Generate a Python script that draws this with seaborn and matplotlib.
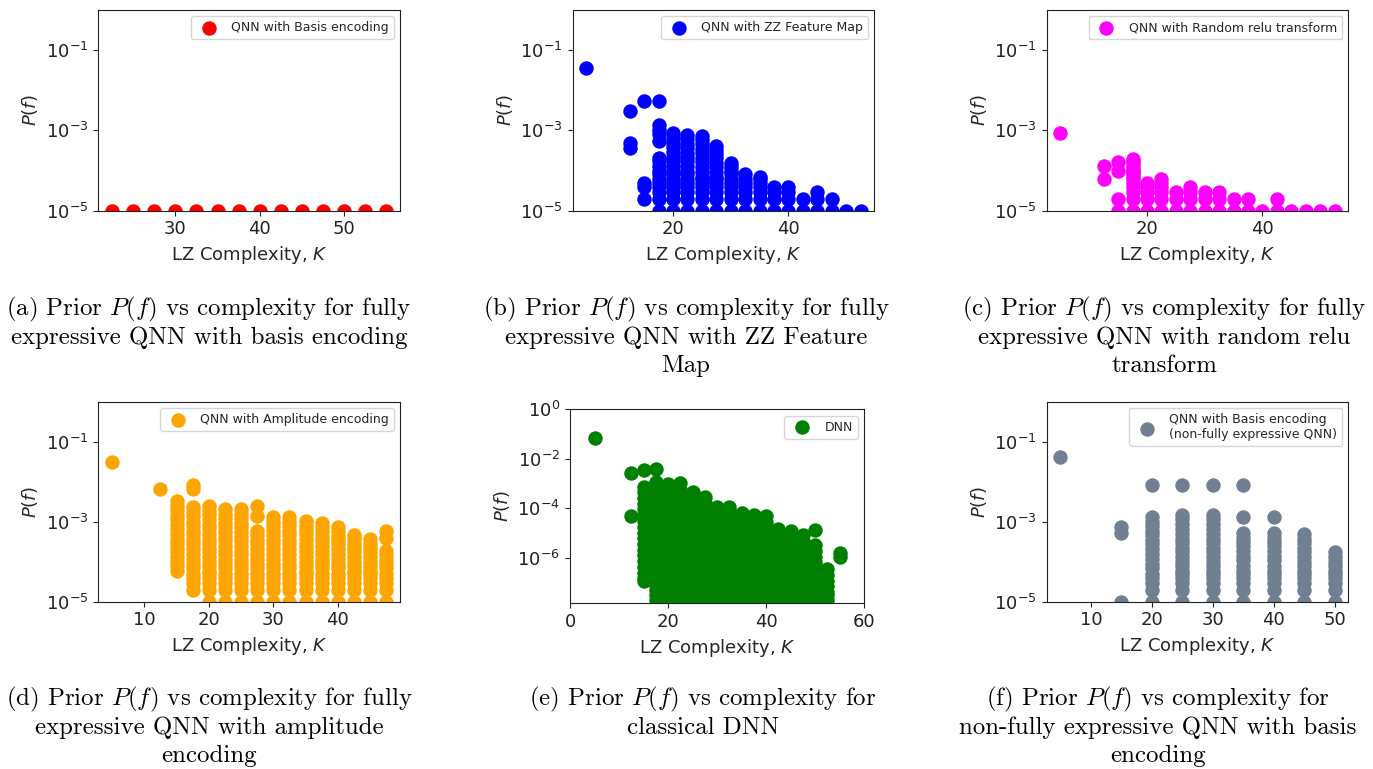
import numpy as np
import pandas as pd
import matplotlib
matplotlib.use("Agg")
import matplotlib.pyplot as plt
import seaborn as sns
from matplotlib.ticker import NullLocator

# ---------------------------------------------------------------------------
# Sampled functions: LZ complexity K of each column and the number of times
# each function in that column was hit.  P(f) = count / number of samples.
# ---------------------------------------------------------------------------
n_samples_qnn = 1e5
n_samples_dnn = 1e8

# (a) fully expressive QNN, basis encoding
basis_K = [22.5, 25, 27.5, 30, 32.5, 35, 37.5, 40, 42.5, 45, 47.5, 50, 52.5, 55]
basis_counts = [[1], [1], [1], [1], [1], [1], [1], [1], [1], [1], [1], [1], [1], [1]]

# (b) fully expressive QNN, ZZ feature map
zz_K = [5, 12.5, 15, 17.5, 20, 22.5, 25, 27.5, 30, 32.5, 35, 37.5, 40, 42.5, 45, 47.5, 50, 52.5]
zz_counts = [
    [3630],
    [310, 48, 36],
    [530, 5, 4, 2],
    [550, 135, 105, 80, 55, 20, 17, 13, 10, 8, 6, 5, 4, 3, 2, 1],
    [85, 66, 50, 38, 29, 22, 17, 13, 10, 8, 6, 5, 4, 3, 2, 1],
    [76, 60, 46, 36, 28, 22, 17, 13, 10, 8, 6, 5, 4, 3, 2, 1],
    [74, 58, 45, 35, 27, 21, 16, 12, 9, 7, 6, 5, 4, 3, 2, 1],
    [42, 33, 26, 20, 15, 12, 9, 7, 6, 5, 4, 3, 2, 1],
    [15, 12, 10, 8, 6, 5, 4, 3, 2, 1],
    [8, 6, 5, 4, 3, 2, 1],
    [7, 6, 5, 4, 3, 2, 1],
    [4, 3, 2, 1],
    [4, 3, 2, 1],
    [2, 1],
    [3, 2, 1],
    [2, 1],
    [1],
    [1],
]

# (c) fully expressive QNN, random relu transform
relu_K = [5, 12.5, 15, 17.5, 20, 22.5, 25, 27.5, 30, 32.5, 35, 37.5, 40, 42.5, 45, 47.5, 50, 52.5]
relu_counts = [
    [87],
    [13, 6],
    [16, 10, 2, 1],
    [19, 17, 15, 13, 11, 10, 9, 8, 7, 6, 5, 4, 3, 2, 1],
    [5, 4, 3, 2, 1],
    [6, 5, 4, 3, 2, 1],
    [3, 2, 1],
    [4, 3, 2, 1],
    [3, 2, 1],
    [3, 2, 1],
    [2, 1],
    [2, 1],
    [1],
    [2, 1],
    [1],
    [1],
    [1],
    [1],
]

# (d) fully expressive QNN, amplitude encoding
amp_K = [5, 12.5, 15, 17.5, 20, 22.5, 25, 27.5, 30, 32.5, 35, 37.5, 40, 42.5, 45, 47.5]
amp_counts = [
    [3100],
    [660],
    [320, 250, 195, 150, 115, 88, 66, 50, 38, 29, 22, 17, 13, 10, 8, 6],
    [850, 640, 230, 175, 135, 100, 78, 60, 46, 35, 27, 21, 16, 12, 9, 7, 5, 4, 3, 2],
    [245, 190, 145, 110, 85, 66, 50, 38, 29, 22, 17, 13, 10, 8, 6, 5, 4, 3, 2, 1],
    [210, 160, 125, 95, 72, 55, 42, 32, 25, 19, 15, 11, 9, 7, 5, 4, 3, 2, 1],
    [210, 160, 125, 95, 72, 55, 42, 32, 25, 19, 15, 11, 9, 7, 5, 4, 3, 2, 1],
    [240, 135, 59, 46, 35, 27, 21, 16, 12, 9, 7, 5, 4, 3, 2, 1],
    [130, 100, 78, 60, 46, 35, 27, 21, 16, 12, 9, 7, 5, 4, 3, 2, 1],
    [130, 100, 78, 60, 46, 35, 27, 21, 16, 12, 9, 7, 5, 4, 3, 2, 1],
    [105, 80, 62, 48, 37, 28, 22, 17, 13, 10, 8, 6, 5, 4, 3, 2, 1],
    [94, 72, 55, 42, 32, 25, 19, 15, 11, 9, 7, 5, 4, 3, 2, 1],
    [75, 58, 45, 35, 27, 21, 16, 12, 9, 7, 5, 4, 3, 2, 1],
    [47, 36, 28, 22, 17, 13, 10, 8, 6, 5, 4, 3, 2, 1],
    [36, 28, 22, 17, 13, 10, 8, 6, 5, 4, 3, 2, 1],
    [59, 40, 19, 15, 11, 9, 7, 5, 4, 3, 2, 1],
]

# (e) classical DNN
dnn_K = [5, 12.5, 15, 17.5, 20, 22.5, 25, 27.5, 30, 32.5, 35, 37.5, 40, 42.5, 45, 47.5, 50, 52.5, 55]
dnn_counts = [
    [7100000],
    [275000, 4900],
    [355000, 74000, 45000, 26000, 15000, 9000, 5200, 3000, 1800, 1050, 620, 360, 210, 125, 72, 42, 25, 15, 11],
    [370000, 118000, 70000, 41000, 24000, 14000, 8200, 4800, 2800, 1650, 970, 570, 330, 195, 115, 67, 39, 23, 13, 8, 5, 3, 2, 1],
    [100000, 60000, 35000, 20000, 12000, 7000, 4100, 2400, 1400, 820, 480, 280, 165, 97, 57, 33, 19, 11, 7, 4, 3, 2, 1],
    [105000, 62000, 36000, 21000, 12500, 7300, 4300, 2500, 1450, 850, 500, 290, 170, 100, 58, 34, 20, 12, 7, 4, 3, 2, 1],
    [47000, 28000, 16000, 9500, 5500, 3200, 1900, 1100, 650, 380, 220, 130, 75, 45, 26, 15, 9, 5, 3, 2, 1],
    [27500, 16000, 9500, 5500, 3200, 1900, 1100, 650, 380, 220, 130, 75, 45, 26, 15, 9, 5, 3, 2, 1],
    [11500, 6800, 4000, 2300, 1350, 800, 470, 270, 160, 95, 55, 32, 19, 11, 7, 4, 3, 2, 1],
    [11500, 6800, 4000, 2300, 1350, 800, 470, 270, 160, 95, 55, 32, 19, 11, 7, 4, 3, 2, 1],
    [6200, 3600, 2100, 1250, 730, 430, 250, 145, 85, 50, 29, 17, 10, 6, 4, 3, 2, 1],
    [5300, 3100, 1800, 1050, 620, 360, 210, 125, 72, 42, 25, 15, 9, 5, 3, 2, 1],
    [4900, 2900, 1700, 1000, 580, 340, 200, 115, 68, 40, 23, 14, 8, 5, 3, 2, 1],
    [1450, 850, 500, 290, 170, 100, 58, 34, 20, 12, 7, 4, 3, 2, 1],
    [1230, 720, 420, 245, 145, 85, 50, 29, 17, 10, 6, 4, 3, 2, 1],
    [830, 490, 285, 165, 97, 57, 33, 19, 11, 7, 4, 3, 2, 1],
    [1300, 320, 190, 110, 65, 38, 22, 13, 8, 5, 3, 2, 1],
    [34, 20, 12, 7, 4, 3, 2, 1],
    [150, 110],
]

# (f) non-fully expressive QNN, basis encoding
nfe_K = [5, 15, 20, 25, 30, 35, 40, 45, 50]
nfe_counts = [
    [4070],
    [72, 51, 1],
    [830, 134, 100, 78, 60, 46, 35, 27, 21, 16, 12, 9, 7, 5, 4, 3, 2, 1],
    [830, 148, 115, 88, 66, 50, 38, 29, 22, 17, 13, 10, 8, 6, 5, 4, 3, 2, 1],
    [830, 148, 115, 88, 66, 50, 38, 29, 22, 17, 13, 10, 8, 6, 5, 4, 3, 2, 1],
    [830, 130, 52, 40, 31, 24, 18, 14, 11, 8, 6, 5, 4, 3, 2, 1],
    [130, 52, 40, 31, 24, 18, 14, 11, 8, 6, 5, 4, 3, 2, 1],
    [49, 38, 29, 22, 17, 13, 10, 8, 6, 5, 4, 3, 2, 1],
    [17, 13, 10, 8, 6, 5, 4, 3, 2, 1],
]

captions = {
    "a": ["(a) Prior $P(f)$ vs complexity for fully", "expressive QNN with basis encoding"],
    "b": ["(b) Prior $P(f)$ vs complexity for fully", "expressive QNN with ZZ Feature", "Map"],
    "c": ["(c) Prior $P(f)$ vs complexity for fully", "expressive QNN with random relu", "transform"],
    "d": ["(d) Prior $P(f)$ vs complexity for fully", "expressive QNN with amplitude", "encoding"],
    "e": ["(e) Prior $P(f)$ vs complexity for", "classical DNN"],
    "f": ["(f) Prior $P(f)$ vs complexity for", "non-fully expressive QNN with basis", "encoding"],
}

# ---------------------------------------------------------------------------
sns.set_style("ticks")
plt.rcParams["font.family"] = ["DejaVu Sans"]
plt.rcParams["axes.edgecolor"] = "#222222"

W, H = 1373, 769
fig = plt.figure(figsize=(W / 100, H / 100), dpi=100)


def px_rect(left, top, right, bottom):
    return [left / W, 1 - bottom / H, (right - left) / W, (bottom - top) / H]


def long_frame(K, counts, n):
    rows = [(k, c / n) for k, col in zip(K, counts) for c in col]
    return pd.DataFrame(rows, columns=["K", "P"])


def panel(rect, K, counts, n, color, label, yticks, ylim, xticks, xlim=None):
    ax = fig.add_axes(px_rect(*rect))
    df = long_frame(K, counts, n)
    ax.set_yscale("log")
    sns.scatterplot(data=df, x="K", y="P", color=color, s=108, linewidth=0,
                    label=label, ax=ax)
    ax.set_ylim(*ylim)
    if xlim is not None:
        ax.set_xlim(*xlim)
    ax.set_yticks(yticks)
    ax.yaxis.set_minor_locator(NullLocator())
    ax.set_xticks(xticks)
    ax.tick_params(labelsize=13, colors="#222222")
    ax.set_xlabel("LZ Complexity, $K$", fontsize=13)
    ax.set_ylabel("$P(f)$", fontsize=13)
    ax.legend(loc="upper right", fontsize=9)
    return ax


qnn_yticks = [1e-5, 1e-3, 1e-1]
qnn_ylim = (1e-5, 1)

panel((98.3, 10, 400, 210.7), basis_K, basis_counts, n_samples_qnn, "red",
      "QNN with Basis encoding", qnn_yticks, qnn_ylim, [30, 40, 50])
panel((572.7, 10, 874.3, 210.7), zz_K, zz_counts, n_samples_qnn, "blue",
      "QNN with ZZ Feature Map", qnn_yticks, qnn_ylim, [20, 40])
panel((1046.7, 10, 1348.3, 210.7), relu_K, relu_counts, n_samples_qnn, "magenta",
      "QNN with Random relu transform", qnn_yticks, qnn_ylim, [20, 40])
panel((98.3, 401.7, 400, 601.7), amp_K, amp_counts, n_samples_qnn, "orange",
      "QNN with Amplitude encoding", qnn_yticks, qnn_ylim, [10, 20, 30, 40])
panel((570, 409.3, 864, 603.3), dnn_K, dnn_counts, n_samples_dnn, "green",
      "DNN", [1e-6, 1e-4, 1e-2, 1e0], (10 ** -7.84, 1), [0, 20, 40, 60], xlim=(0, 60))
panel((1046.7, 401.7, 1348.3, 601.7), nfe_K, nfe_counts, n_samples_qnn, "slategray",
      "QNN with Basis encoding\n(non-fully expressive QNN)", qnn_yticks, qnn_ylim,
      [10, 20, 30, 40, 50])

# Sub-figure captions
caption_x = {"a": 209, "b": 686, "c": 1164, "d": 209, "e": 703, "f": 1158}
row_y = {"a": 309, "b": 309, "c": 309, "d": 699, "e": 699, "f": 699}
line_step = 28.7
for key, lines in captions.items():
    for i, line in enumerate(lines):
        fig.text(caption_x[key] / W, 1 - (row_y[key] + i * line_step) / H, line,
                 ha="center", va="center", fontsize=17.9, family="cmr10",
                 math_fontfamily="cm", color="black")

fig.savefig("out.png", dpi=100, facecolor="white")
